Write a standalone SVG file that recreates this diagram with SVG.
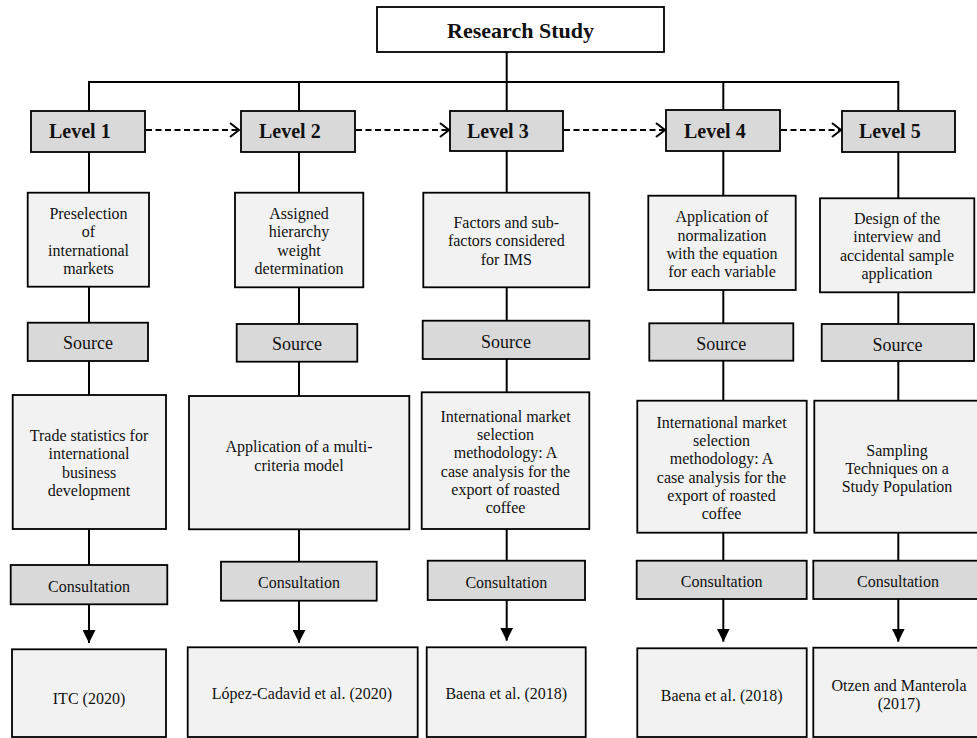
<svg xmlns="http://www.w3.org/2000/svg" width="977" height="738" viewBox="0 0 977 738">
<style>
  .bg{fill:#ffffff}
  .top{fill:#ffffff;stroke:#000;stroke-width:1.8}
  .lvl{fill:#d9d9d9;stroke:#000;stroke-width:1.8}
  .tag{fill:#d9d9d9;stroke:#000;stroke-width:1.8}
  .box{fill:#f2f2f2;stroke:#000;stroke-width:1.8}
  .t{font-family:"Liberation Serif","Times New Roman",serif;font-size:16px;fill:#111;text-anchor:middle}
  .ts{font-family:"Liberation Serif","Times New Roman",serif;font-size:18px;fill:#111;text-anchor:middle}
  .tl{font-family:"Liberation Serif","Times New Roman",serif;font-size:20px;font-weight:bold;fill:#111}
  .tt{font-family:"Liberation Serif","Times New Roman",serif;font-size:22px;font-weight:bold;fill:#111;text-anchor:middle}
  .ln{stroke:#000;stroke-width:2;fill:none}
  .dash{stroke:#000;stroke-width:2;fill:none;stroke-dasharray:6 3.5}
</style>
<defs>
  <marker id="arr" viewBox="0 0 13 13" refX="13" refY="6.5" markerWidth="13" markerHeight="13" markerUnits="userSpaceOnUse" orient="auto">
    <path d="M0,0 L13,6.5 L0,13 Z" fill="#000"/>
  </marker>
  <marker id="chev" viewBox="0 0 11 16" refX="10" refY="8" markerWidth="11" markerHeight="16" markerUnits="userSpaceOnUse" orient="auto">
    <path d="M1,1 L10,8 L1,15" fill="none" stroke="#000" stroke-width="2"/>
  </marker>
</defs>
<rect class="bg" x="0" y="0" width="977" height="738"/>

<g id="connectors">
  <line class="ln" x1="506.7" y1="52" x2="506.7" y2="111"/>
  <polyline class="ln" points="89,111 89,82 898.3,82 898.3,111"/>
  <line class="ln" x1="299" y1="82" x2="299" y2="111"/>
  <line class="ln" x1="723.3" y1="82" x2="723.3" y2="110"/>

  <line class="dash" x1="146" y1="130" x2="239" y2="130" marker-end="url(#chev)"/>
  <line class="dash" x1="356" y1="130" x2="449" y2="130" marker-end="url(#chev)"/>
  <line class="dash" x1="564" y1="130" x2="665" y2="130" marker-end="url(#chev)"/>
  <line class="dash" x1="781" y1="130" x2="841" y2="130" marker-end="url(#chev)"/>

  <line class="ln" x1="89" y1="152" x2="89" y2="192.7"/>
  <line class="ln" x1="89" y1="286.7" x2="89" y2="322.7"/>
  <line class="ln" x1="89" y1="361" x2="89" y2="395"/>
  <line class="ln" x1="89" y1="529" x2="89" y2="565"/>
  <line class="ln" x1="89" y1="604.3" x2="89" y2="643" marker-end="url(#arr)"/>

  <line class="ln" x1="299" y1="152" x2="299" y2="192.7"/>
  <line class="ln" x1="299" y1="287.3" x2="299" y2="324"/>
  <line class="ln" x1="299" y1="361.7" x2="299" y2="396"/>
  <line class="ln" x1="299" y1="529.3" x2="299" y2="561.7"/>
  <line class="ln" x1="299" y1="600.7" x2="299" y2="642.7" marker-end="url(#arr)"/>

  <line class="ln" x1="506.7" y1="151" x2="506.7" y2="192.7"/>
  <line class="ln" x1="506.7" y1="287.3" x2="506.7" y2="320.7"/>
  <line class="ln" x1="506.7" y1="359" x2="506.7" y2="392.3"/>
  <line class="ln" x1="506.7" y1="529" x2="506.7" y2="560.7"/>
  <line class="ln" x1="506.7" y1="600" x2="506.7" y2="640.7" marker-end="url(#arr)"/>

  <line class="ln" x1="723.3" y1="151" x2="723.3" y2="195.7"/>
  <line class="ln" x1="723.3" y1="290" x2="723.3" y2="323.3"/>
  <line class="ln" x1="723.3" y1="360.7" x2="723.3" y2="400.7"/>
  <line class="ln" x1="723.3" y1="532.7" x2="723.3" y2="560.7"/>
  <line class="ln" x1="723.3" y1="599" x2="723.3" y2="641.7" marker-end="url(#arr)"/>

  <line class="ln" x1="898.3" y1="152" x2="898.3" y2="198.3"/>
  <line class="ln" x1="898.3" y1="292.3" x2="898.3" y2="324"/>
  <line class="ln" x1="898.3" y1="361" x2="898.3" y2="400.7"/>
  <line class="ln" x1="898.3" y1="532.7" x2="898.3" y2="560.7"/>
  <line class="ln" x1="898.3" y1="599" x2="898.3" y2="641.7" marker-end="url(#arr)"/>
</g>

<g id="research-study">
  <rect class="top" x="377" y="7" width="287" height="45"/>
  <text class="tt" x="520.5" y="37.5">Research Study</text>
</g>

<g id="level-1"><rect class="lvl" x="31" y="111" width="114" height="41"/><text class="tl" x="49" y="138">Level 1</text></g>
<g id="level-2"><rect class="lvl" x="241" y="111" width="114" height="41"/><text class="tl" x="259" y="138">Level 2</text></g>
<g id="level-3"><rect class="lvl" x="450" y="111" width="113" height="40"/><text class="tl" x="467" y="138">Level 3</text></g>
<g id="level-4"><rect class="lvl" x="666" y="110" width="114" height="41"/><text class="tl" x="684" y="138">Level 4</text></g>
<g id="level-5"><rect class="lvl" x="842" y="111" width="113" height="41"/><text class="tl" x="859" y="138">Level 5</text></g>

<g id="step-1">
  <rect class="box" x="27.7" y="192.7" width="121.3" height="94"/>
  <text class="t" x="88.5" y="218.5">Preselection</text>
  <text class="t" x="88.5" y="237">of</text>
  <text class="t" x="88.5" y="255.5">international</text>
  <text class="t" x="88.5" y="273.5">markets</text>
</g>
<g id="source-1"><rect class="tag" x="27.7" y="322.7" width="120.3" height="38.3"/><text class="ts" x="88" y="349">Source</text></g>
<g id="doc-1">
  <rect class="box" x="12.7" y="395" width="153.3" height="134"/>
  <text class="t" x="89" y="440.5">Trade statistics for</text>
  <text class="t" x="89" y="459">international</text>
  <text class="t" x="89" y="477.5">business</text>
  <text class="t" x="89" y="496">development</text>
</g>
<g id="consultation-1"><rect class="tag" x="10.7" y="565" width="156.6" height="39.3"/><text class="t" x="89" y="591.5">Consultation</text></g>
<g id="ref-1"><rect class="box" x="12" y="649.3" width="154" height="87.7"/><text class="t" x="89" y="703.5">ITC (2020)</text></g>

<g id="step-2">
  <rect class="box" x="235" y="192.7" width="128.3" height="94.6"/>
  <text class="t" x="299" y="218.5">Assigned</text>
  <text class="t" x="299" y="237">hierarchy</text>
  <text class="t" x="299" y="255.5">weight</text>
  <text class="t" x="299" y="273.5">determination</text>
</g>
<g id="source-2"><rect class="tag" x="236.7" y="324" width="120.6" height="37.7"/><text class="ts" x="297" y="349.5">Source</text></g>
<g id="doc-2">
  <rect class="box" x="189" y="396" width="220.3" height="133.3"/>
  <text class="t" x="299" y="452">Application of a multi-</text>
  <text class="t" x="299" y="470.5">criteria model</text>
</g>
<g id="consultation-2"><rect class="tag" x="221" y="561.7" width="155.7" height="39"/><text class="t" x="299" y="588">Consultation</text></g>
<g id="ref-2"><rect class="box" x="187.7" y="647.3" width="230" height="89.7"/><text class="t" x="302" y="698.8">López-Cadavid et al. (2020)</text></g>

<g id="step-3">
  <rect class="box" x="423.3" y="192.7" width="166" height="94.6"/>
  <text class="t" x="506.3" y="227.8">Factors and sub-</text>
  <text class="t" x="506.3" y="246.3">factors considered</text>
  <text class="t" x="506.3" y="264.8">for IMS</text>
</g>
<g id="source-3"><rect class="tag" x="422.7" y="320.7" width="166.6" height="38.3"/><text class="ts" x="506" y="348">Source</text></g>
<g id="doc-3">
  <rect class="box" x="421.7" y="392.3" width="167.6" height="136.7"/>
  <text class="t" x="505.5" y="422">International market</text>
  <text class="t" x="505.5" y="440.2">selection</text>
  <text class="t" x="505.5" y="458.4">methodology: A</text>
  <text class="t" x="505.5" y="476.6">case analysis for the</text>
  <text class="t" x="505.5" y="494.8">export of roasted</text>
  <text class="t" x="505.5" y="513">coffee</text>
</g>
<g id="consultation-3"><rect class="tag" x="427.7" y="560.7" width="157.3" height="39.3"/><text class="t" x="506.3" y="587.8">Consultation</text></g>
<g id="ref-3"><rect class="box" x="426.7" y="647.3" width="159" height="89.7"/><text class="t" x="506.3" y="698.8">Baena et al. (2018)</text></g>

<g id="step-4">
  <rect class="box" x="648.3" y="195.7" width="147.4" height="94.3"/>
  <text class="t" x="722" y="222.2">Application of</text>
  <text class="t" x="722" y="240.5">normalization</text>
  <text class="t" x="722" y="258.8">with the equation</text>
  <text class="t" x="722" y="277.2">for each variable</text>
</g>
<g id="source-4"><rect class="tag" x="649.3" y="323.3" width="144" height="37.4"/><text class="ts" x="721.3" y="349.5">Source</text></g>
<g id="doc-4">
  <rect class="box" x="637.3" y="400.7" width="169.4" height="132"/>
  <text class="t" x="721.5" y="427.8">International market</text>
  <text class="t" x="721.5" y="446.1">selection</text>
  <text class="t" x="721.5" y="464.4">methodology: A</text>
  <text class="t" x="721.5" y="482.8">case analysis for the</text>
  <text class="t" x="721.5" y="501.1">export of roasted</text>
  <text class="t" x="721.5" y="519.4">coffee</text>
</g>
<g id="consultation-4"><rect class="tag" x="636.7" y="560.7" width="170" height="38.3"/><text class="t" x="721.7" y="586.5">Consultation</text></g>
<g id="ref-4"><rect class="box" x="637.3" y="648.3" width="169.4" height="88.7"/><text class="t" x="721.7" y="700.5">Baena et al. (2018)</text></g>

<g id="step-5">
  <rect class="box" x="820" y="198.3" width="154.3" height="94"/>
  <text class="t" x="897" y="223.8">Design of the</text>
  <text class="t" x="897" y="242.2">interview and</text>
  <text class="t" x="897" y="260.5">accidental sample</text>
  <text class="t" x="897" y="278.8">application</text>
</g>
<g id="source-5"><rect class="tag" x="821.7" y="324" width="152.3" height="37"/><text class="ts" x="897.5" y="351">Source</text></g>
<g id="doc-5">
  <rect class="box" x="814.3" y="400.7" width="166" height="132"/>
  <text class="t" x="897" y="455.5">Sampling</text>
  <text class="t" x="897" y="473.5">Techniques on a</text>
  <text class="t" x="897" y="491.5">Study Population</text>
</g>
<g id="consultation-5"><rect class="tag" x="813.3" y="560.7" width="167" height="38.3"/><text class="t" x="898" y="586.5">Consultation</text></g>
<g id="ref-5">
  <rect class="box" x="813.3" y="647.7" width="167" height="89.3"/>
  <text class="t" x="899" y="691.2">Otzen and Manterola</text>
  <text class="t" x="899" y="708.8">(2017)</text>
</g>
</svg>
